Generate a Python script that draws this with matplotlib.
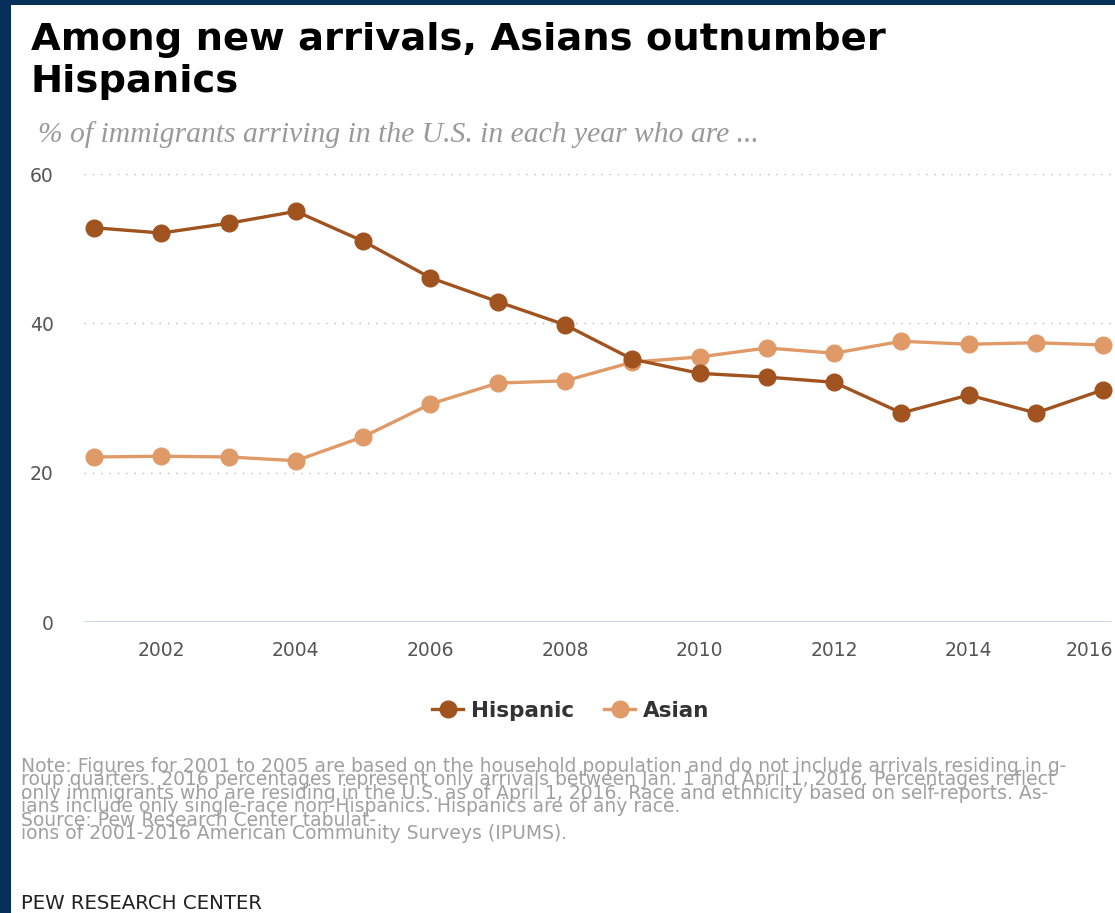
import numpy as np
import matplotlib.pyplot as plt
import matplotlib.transforms as mtransforms
from matplotlib.patches import Rectangle
from matplotlib.lines import Line2D

years = np.arange(2001, 2017)
hispanic = [52.8, 52.1, 53.4, 55.0, 51.0, 46.1, 42.9, 39.8, 35.2, 33.3, 32.8, 32.1, 28.0, 30.4, 28.0, 31.1]
asian = [22.1, 22.2, 22.1, 21.6, 24.8, 29.2, 32.0, 32.3, 34.8, 35.5, 36.7, 36.0, 37.6, 37.2, 37.4, 37.1]
xticks = [2002, 2004, 2006, 2008, 2010, 2012, 2014, 2016]
yticks = [0, 20, 40, 60]

note_lines = [
    "Note: Figures for 2001 to 2005 are based on the household population and do not include arrivals residing in g-",
    "roup quarters. 2016 percentages represent only arrivals between Jan. 1 and April 1, 2016. Percentages reflect",
    "only immigrants who are residing in the U.S. as of April 1, 2016. Race and ethnicity based on self-reports. As-",
    "ians include only single-race non-Hispanics. Hispanics are of any race.",
    "Source: Pew Research Center tabulat-",
    "ions of 2001-2016 American Community Surveys (IPUMS).",
]

c_hisp = "#a0531f"
c_asian = "#e09a68"
navy = "#06305a"

W, H = 1115, 913
fig = plt.figure(figsize=(W / 100, H / 100), dpi=100)
fig.patch.set_facecolor(navy)
# white card
fig.patches.append(Rectangle((11 / W, 0), 1 - 11 / W, 1 - 5 / H, transform=fig.transFigure,
                             facecolor="white", edgecolor="none", zorder=-5))

ax = fig.add_axes([84 / W, (H - 622) / H, (1112 - 84) / W, 448 / H])
ax.set_zorder(2)
ax.patch.set_alpha(0)
ax.plot(years, hispanic, color=c_hisp, lw=2.4, marker="o", ms=12, zorder=4, clip_on=False)
ax.plot(years, asian, color=c_asian, lw=2.4, marker="o", ms=12, zorder=3, clip_on=False)

ax.set_xlim(2000.85, 2016.13)
ax.set_ylim(0, 60)
for v in [20, 40, 60]:
    ax.axhline(v, color="#bbbbbb", lw=1, ls=(0, (1, 5)), zorder=1)
ax.axhline(0, color="#c6d3ea", lw=1.3, zorder=1)
for s in ax.spines.values():
    s.set_visible(False)
ax.set_xticks(xticks)
ax.set_xticklabels([str(x) for x in xticks])
ax.set_yticks(yticks)
ax.tick_params(length=0, labelsize=13.5, colors="#555555")
ax.tick_params(axis="x", pad=14)
ax.tick_params(axis="y", pad=22)

# keep the last year label inside the card
last = ax.get_xticklabels()[-1]
last.set_horizontalalignment("right")
last.set_transform(last.get_transform() + mtransforms.ScaledTranslation(10 / 100, 0, fig.dpi_scale_trans))

fig.text(31 / W, 1 - 40 / H, "Among new arrivals, Asians outnumber", fontsize=27.7,
         fontweight="bold", color="black", va="center", ha="left")
fig.text(31 / W, 1 - 82 / H, "Hispanics", fontsize=27.7,
         fontweight="bold", color="black", va="center", ha="left")
fig.text(38 / W, 1 - 135 / H, "% of immigrants arriving in the U.S. in each year who are ...",
         fontsize=21.3, style="italic", family="Liberation Serif", color="#999999", va="center", ha="left")

handles = [Line2D([], [], color=c_hisp, lw=2.4, marker="o", ms=12),
           Line2D([], [], color=c_asian, lw=2.4, marker="o", ms=12)]
fig.legend(handles, ["Hispanic", "Asian"], loc="center", bbox_to_anchor=(571 / W, 1 - 711 / H),
           ncol=2, frameon=False, handlelength=1.4, handletextpad=0.4, columnspacing=1.4,
           prop={"weight": "bold", "size": 15.5}, labelcolor="#333333")

# tightly packed note block, as in the original
fig.text(21 / W, 1 - 757 / H, "\n".join(note_lines), fontsize=13.5, color="#a0a0a0",
         va="top", ha="left", linespacing=0.63)
fig.text(21 / W, 1 - 903 / H, "PEW RESEARCH CENTER", fontsize=14.2, color="#222222", va="center", ha="left")

fig.savefig("out.png", dpi=100, facecolor=navy)
